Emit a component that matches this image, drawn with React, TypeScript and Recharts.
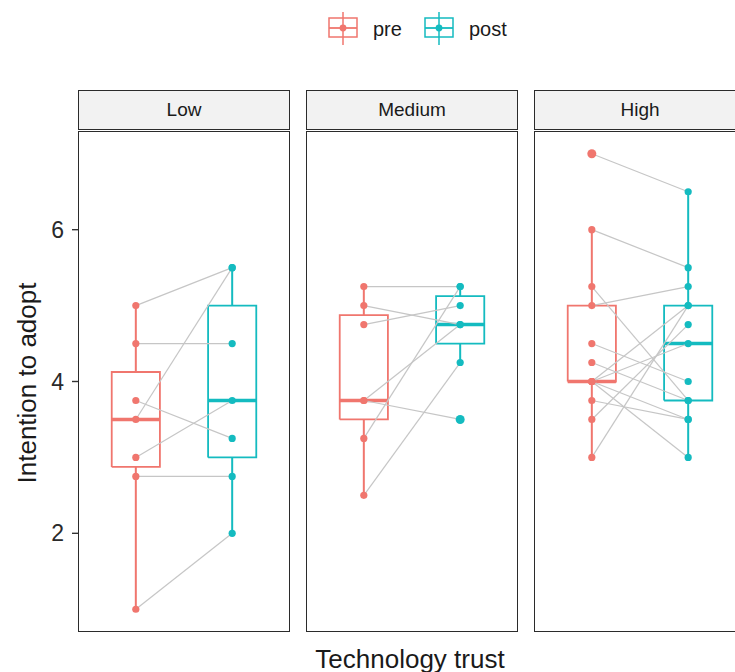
import { ComposedChart, Scatter, XAxis, YAxis } from "recharts";

// ggplot default two-colour palette
const PRE_COLOR = "#F0766E";
const POST_COLOR = "#14BBC0";
const PAIR_COLOR = "#C6C6C6";
const FONT = "'Liberation Sans', Arial, Helvetica, sans-serif";

const facets = ["Low", "Medium", "High"];
const conditions = ["pre", "post"];
const yTicks = [2, 4, 6];

// paired scores, same subject at the same index in pre / post
const lowPre = [5, 4.5, 3.75, 3.5, 3, 2.75, 1];
const lowPost = [5.5, 4.5, 3.25, 5.5, 3.75, 2.75, 2];
const mediumPre = [5.25, 5, 4.75, 3.75, 3.75, 3.25, 2.5];
const mediumPost = [5.25, 4.75, 5, 4.75, 3.5, 5.25, 4.25];
const highPre = [7, 6, 5.25, 5, 4.5, 4.25, 4, 4, 4, 4, 3.75, 3.5, 3];
const highPost = [6.5, 5.5, 3.75, 5.25, 4, 3.75, 3, 3.5, 5, 4.5, 3.5, 4.75, 5];

const preByFacet = [lowPre, mediumPre, highPre];
const postByFacet = [lowPost, mediumPost, highPost];

// layout
const AXIS_W = 78;
const PANEL_W = 212;
const PANEL_H = 501;
const PANEL_TOP = 131;
const STRIP_TOP = 90;
const STRIP_H = 40;
const PANEL_LEFT = [78, 306, 534];

function quantile(sorted: number[], p: number) {
  const pos = (sorted.length - 1) * p;
  const lo = Math.floor(pos);
  const hi = Math.ceil(pos);
  return sorted[lo] + (sorted[hi] - sorted[lo]) * (pos - lo);
}

function boxStats(values: number[]) {
  const s = [...values].sort((a, b) => a - b);
  const q1 = quantile(s, 0.25);
  const med = quantile(s, 0.5);
  const q3 = quantile(s, 0.75);
  const iqr = q3 - q1;
  const lowFence = q1 - 1.5 * iqr;
  const highFence = q3 + 1.5 * iqr;
  const inside = s.filter((v) => v >= lowFence && v <= highFence);
  return { q1, med, q3, lo: inside[0], hi: inside[inside.length - 1], lowFence, highFence };
}

const noDot = () => <g />;

function segment(key: string, pts: { x: number; y: number }[], color: string, width: number) {
  return (
    <Scatter
      key={key}
      data={pts}
      line={{ stroke: color, strokeWidth: width }}
      shape={noDot}
      isAnimationActive={false}
    />
  );
}

function boxSeries(values: number[], x: number, color: string, key: string) {
  const b = boxStats(values);
  const h = 0.25;
  return [
    segment(key + "-wu", [{ x, y: b.q3 }, { x, y: b.hi }], color, 2),
    segment(key + "-wl", [{ x, y: b.q1 }, { x, y: b.lo }], color, 2),
    segment(
      key + "-box",
      [
        { x: x - h, y: b.q1 },
        { x: x + h, y: b.q1 },
        { x: x + h, y: b.q3 },
        { x: x - h, y: b.q3 },
        { x: x - h, y: b.q1 },
      ],
      color,
      1.8
    ),
    segment(key + "-med", [{ x: x - h, y: b.med }, { x: x + h, y: b.med }], color, 3.4),
  ];
}

function pointSeries(values: number[], x: number, color: string, key: string) {
  const b = boxStats(values);
  const data = values.map((y) => ({ x, y, out: y < b.lowFence || y > b.highFence }));
  return (
    <Scatter
      key={key}
      data={data}
      isAnimationActive={false}
      shape={(p: any) => (
        <circle cx={p.cx} cy={p.cy} r={p.payload.out ? 4.5 : 3.6} fill={color} />
      )}
    />
  );
}

function Panel({ idx }: { idx: number }) {
  const pre = preByFacet[idx];
  const post = postByFacet[idx];
  const showAxis = idx === 0;
  const width = showAxis ? AXIS_W + PANEL_W : PANEL_W;
  return (
    <ComposedChart
      width={width}
      height={PANEL_H}
      margin={{ top: 0, right: 0, bottom: 0, left: 0 }}
    >
      <XAxis type="number" dataKey="x" domain={[0.4, 2.6]} hide />
      <YAxis
        type="number"
        dataKey="y"
        domain={[0.7, 7.3]}
        ticks={yTicks}
        hide={!showAxis}
        width={AXIS_W}
        axisLine={false}
        tickLine={{ stroke: "#333333", strokeWidth: 1.4 }}
        tickSize={6}
        tickMargin={8}
        tick={{ fontSize: 23, fill: "#2a2a2a", fontFamily: FONT }}
      />
      {boxSeries(pre, 1, PRE_COLOR, "pre")}
      {boxSeries(post, 2, POST_COLOR, "post")}
      {pre.map((v, i) =>
        segment("pair" + i, [{ x: 1, y: v }, { x: 2, y: post[i] }], PAIR_COLOR, 1.2)
      )}
      {pointSeries(pre, 1, PRE_COLOR, "pre-pts")}
      {pointSeries(post, 2, POST_COLOR, "post-pts")}
    </ComposedChart>
  );
}

function LegendGlyph({ color }: { color: string }) {
  return (
    <g stroke={color} strokeWidth={1.5} fill="none">
      <line x1={15} y1={0} x2={15} y2={33} />
      <rect x={1} y={6} width={28} height={19} />
      <line x1={1} y1={16} x2={29} y2={16} strokeWidth={1.8} />
      <circle cx={15} cy={16} r={3.4} fill={color} stroke="none" />
    </g>
  );
}

export default function App() {
  return (
    <div
      style={{
        position: "absolute",
        left: 0,
        top: 0,
        width: 735,
        height: 672,
        overflow: "hidden",
        background: "#ffffff",
        fontFamily: FONT,
      }}
    >
      {/* legend */}
      <svg
        width={220}
        height={50}
        style={{ position: "absolute", left: 320, top: 10 }}
      >
        {conditions.map((c, i) => {
          const x0 = i === 0 ? 8 : 104;
          return (
            <g key={c} transform={`translate(${x0},2)`}>
              <LegendGlyph color={i === 0 ? PRE_COLOR : POST_COLOR} />
              <text x={45} y={24} fontSize={20} fill="#1a1a1a" fontFamily={FONT}>
                {c}
              </text>
            </g>
          );
        })}
      </svg>

      {facets.map((f, i) => (
        <div key={f}>
          <div
            style={{
              position: "absolute",
              left: PANEL_LEFT[i],
              top: STRIP_TOP,
              width: PANEL_W,
              height: STRIP_H,
              boxSizing: "border-box",
              border: "1.5px solid #2b2b2b",
              background: "#F2F2F2",
              display: "flex",
              alignItems: "center",
              justifyContent: "center",
              fontSize: 19,
              color: "#1a1a1a",
            }}
          >
            {f}
          </div>
          <div
            style={{
              position: "absolute",
              left: i === 0 ? 0 : PANEL_LEFT[i],
              top: PANEL_TOP,
            }}
          >
            <Panel idx={i} />
          </div>
          <div
            style={{
              position: "absolute",
              left: PANEL_LEFT[i],
              top: PANEL_TOP,
              width: PANEL_W,
              height: PANEL_H,
              boxSizing: "border-box",
              border: "1.6px solid #2b2b2b",
              pointerEvents: "none",
            }}
          />
        </div>
      ))}

      <div
        style={{
          position: "absolute",
          left: 27,
          top: 383,
          transform: "translate(-50%, -50%) rotate(-90deg)",
          whiteSpace: "nowrap",
          fontSize: 26,
          color: "#1a1a1a",
        }}
      >
        Intention to adopt
      </div>
      <div
        style={{
          position: "absolute",
          left: 410,
          top: 659,
          transform: "translate(-50%, -50%)",
          whiteSpace: "nowrap",
          fontSize: 26,
          color: "#1a1a1a",
        }}
      >
        Technology trust
      </div>
    </div>
  );
}
